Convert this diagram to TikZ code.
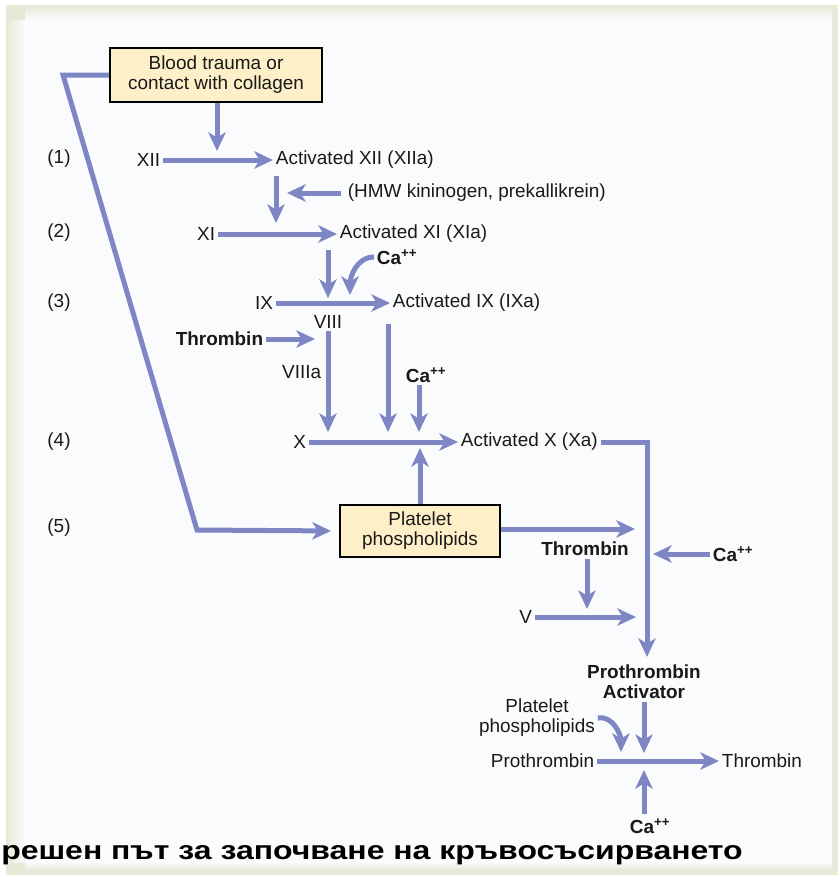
\documentclass[tikz,border=0pt]{standalone}
\usepackage{fontspec}
\setmainfont{Liberation Sans}
\usetikzlibrary{arrows.meta}
\definecolor{flow}{RGB}{126,135,196}
\definecolor{boxfill}{RGB}{253,240,200}
\definecolor{paper}{RGB}{249,251,253}
\definecolor{rim}{RGB}{229,234,215}
\tikzset{every node/.style={inner sep=2pt,text=black!90,font=\fontsize{14.2}{15}\selectfont},
  heavy/.style={font=\fontsize{14.2}{15}\selectfont\bfseries},
  srcbox/.style={draw=black,line width=1.5pt,fill=boxfill,align=center},
  caption/.style={font=\fontsize{19.5}{20}\selectfont\bfseries,text=black},
  flowarr/.style={draw=flow,line width=3.75pt,-{Stealth[length=14pt,width=13pt,inset=4pt]}}}

\begin{document}
\begin{tikzpicture}[x=0.75pt,y=-0.75pt]
      \useasboundingbox (0,0) rectangle (838,875);
      \fill[white] (0,0) rectangle (838,875);
      \fill[rim] (6,5) rectangle (838,875);
      \fill[paper] (25,20) rectangle (832,862);
      \shade[top color=rim,bottom color=paper] (25,5) rectangle (832,20);
      \shade[left color=rim,right color=paper] (6,20) rectangle (25,862);
      \shade[top color=paper,bottom color=rim] (25,862) rectangle (832,870);

      \node[srcbox,minimum width=159pt,minimum height=40pt] (trauma) at (216,75) {Blood trauma or\\contact with collagen};
      \node (n1) at (59,159) {(1)};
      \node (n2) at (59,233) {(2)};
      \node (n3) at (59,303) {(3)};
      \node (n4) at (59,442) {(4)};
      \node (n5) at (59,528) {(5)};
      \node[anchor=east] (xii) at (163,160) {XII};
      \node[anchor=west] (xiia) at (273,160) {Activated XII (XIIa)};
      \node[anchor=west] (hmw) at (345,193) {(HMW kininogen, prekallikrein)};
      \node[anchor=east] (xi) at (218,234) {XI};
      \node[anchor=west] (xia) at (337,234) {Activated XI (XIa)};
      \node[heavy,anchor=west] (ca1) at (374,257) {Ca\textsuperscript{++}};
      \node[anchor=east] (ix) at (276,303) {IX};
      \node[anchor=west] (ixa) at (390,303) {Activated IX (IXa)};
      \node (viii) at (328,322) {VIII};
      \node[heavy,anchor=east] (thr1) at (266,339) {Thrombin};
      \node[anchor=east] (viiia) at (324,372) {VIIIa};
      \node[heavy,anchor=west] (ca2) at (403,375) {Ca\textsuperscript{++}};
      \node[anchor=east] (x) at (309,442) {X};
      \node[anchor=west] (xa) at (458,442) {Activated X (Xa)};
      \node[srcbox,minimum width=120pt,minimum height=39pt] (plate) at (420,531) {Platelet\\phospholipids};
      \node[heavy] (thr2) at (585,549) {Thrombin};
      \node[heavy,anchor=west] (ca3) at (710,554) {Ca\textsuperscript{++}};
      \node[anchor=east] (v) at (535,617) {V};
      \node[heavy,align=center] (pa) at (644,682) {Prothrombin\\Activator};
      \node[align=center] (plate2) at (537,718) {Platelet\\phospholipids};
      \node[anchor=east] (pro) at (597,761) {Prothrombin};
      \node[anchor=west] (thr3) at (719,761) {Thrombin};
      \node[heavy,inner sep=0pt] (ca4) at (650,826) {Ca\textsuperscript{++}};
      \node[caption,anchor=west,inner sep=0pt] (cap) at (1,855) {\scalebox{1.23}[1]{решен път за започване на кръвосъсирването}};

      \coordinate (k1) at (63,75);
      \coordinate (k2) at (197,530);
      \coordinate (j1) at (217,151);
      \coordinate (j2) at (276,223);
      \coordinate (j3) at (287,193);
      \coordinate (j4) at (328,298);
      \coordinate (j5) at (350,295);
      \coordinate (j6) at (315,339);
      \coordinate (j7) at (328,432);
      \coordinate (j8) at (388,432);
      \coordinate (j9) at (419,432);
      \coordinate (j10) at (420,448);
      \coordinate (j11) at (647,657);
      \coordinate (j12) at (635,529);
      \coordinate (j13) at (587,609);
      \coordinate (j14) at (653,554);
      \coordinate (j15) at (636,617);
      \coordinate (j16) at (621,752);
      \coordinate (j17) at (644,753);
      \coordinate (j18) at (644,770);

      \draw[flowarr] (trauma.south -| j1) -- (j1);
      \draw[flowarr] (xii) -- (xiia);
      \draw[flowarr,shorten <=3pt] (xiia.south west -| j2) -- (j2);
      \draw[flowarr,shorten <=3pt] (hmw) -- (j3);
      \draw[flowarr] (xi) -- (xia);
      \draw[flowarr,shorten <=3pt] (xia.south west -| j4) -- (j4);
      \draw[flowarr] (ca1.west) to[out=180,in=90] (j5);
      \draw[flowarr] (ix) -- (ixa);
      \draw[flowarr] (thr1) -- (j6);
      \draw[flowarr] (viii.south) -- (j7);
      \draw[flowarr,shorten <=7pt] (ixa.south west -| j8) -- (j8);
      \draw[flowarr] (ca2.south -| j9) -- (j9);
      \draw[flowarr] (x) -- (xa);
      \draw[flowarr] (plate.north) -- (j10);
      \draw[flowarr,shorten >=6pt] (trauma.west) -- (k1) -- (k2) -- (plate.west);
      \draw[flowarr] (xa.east) -| (j11);
      \draw[flowarr] (plate.east |- j12) -- (j12);
      \draw[flowarr] (thr2.south -| j13) -- (j13);
      \draw[flowarr] (ca3.west) -- (j14);
      \draw[flowarr] (v) -- (j15);
      \draw[flowarr] (plate2.east) to[out=10,in=90] (j16);
      \draw[flowarr] (pa.south) -- (j17);
      \draw[flowarr] (pro) -- (thr3);
      \draw[flowarr,shorten <=3pt] (ca4.north -| j18) -- (j18);
    \end{tikzpicture}
\end{document}
